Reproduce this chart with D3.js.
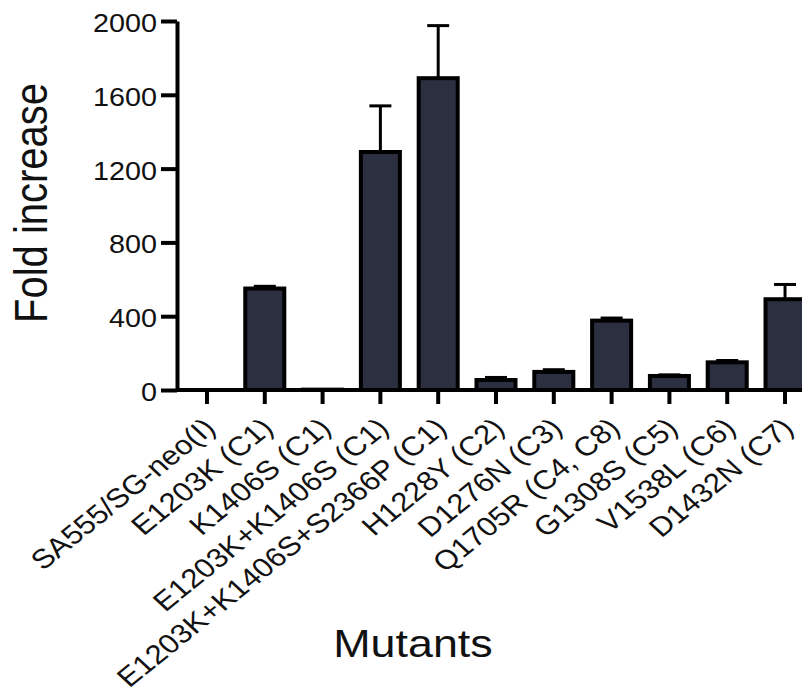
<!DOCTYPE html>
<html><head><meta charset="utf-8">
<script src="https://cdn.jsdelivr.net/npm/d3@7"></script>
<style>body{margin:0;background:#fff}svg{display:block}text{font-family:"Liberation Sans",Arial,sans-serif;fill:#111}</style>
</head><body>
<svg id="c" width="802" height="696"></svg>
<script>
const categories = ["SA555/SG-neo(I)","E1203K (C1)","K1406S (C1)","E1203K+K1406S (C1)","E1203K+K1406S+S2366P (C1)","H1228Y (C2)","D1276N (C3)","Q1705R (C4, C8)","G1308S (C5)","V1538L (C6)","D1432N (C7)"];
const values = [0, 550, 2, 1290, 1690, 54, 98, 376, 76, 150, 492];
const errors = [0, 12, 0, 250, 285, 14, 12, 14, 6, 10, 80];
const yTicks = [0, 400, 800, 1200, 1600, 2000];

const svg = d3.select("#c");
const x = d3.scaleBand().domain(categories).range([177, 815]).paddingInner(0.325).paddingOuter(0.181);
const y = d3.scaleLinear().domain([0, 2000]).range([390, 21]);
const SX = 1.15; // horizontal stretch of the reference's lettering

// error bars
const eg = svg.append("g").attr("stroke", "#000").attr("stroke-width", 3);
categories.forEach((c, i) => {
  if (errors[i] <= 0) return;
  const cx = x(c) + x.bandwidth() / 2;
  eg.append("line").attr("x1", cx).attr("x2", cx).attr("y1", y(values[i])).attr("y2", y(values[i] + errors[i]));
  eg.append("line").attr("x1", cx - 11).attr("x2", cx + 11).attr("y1", y(values[i] + errors[i])).attr("y2", y(values[i] + errors[i]));
});

// bars
svg.append("g").selectAll("rect").data(categories).join("rect")
  .attr("x", d => x(d)).attr("width", x.bandwidth())
  .attr("y", (d, i) => y(values[i])).attr("height", (d, i) => y(0) - y(values[i]))
  .attr("fill", "#2c2f40").attr("stroke", "#000").attr("stroke-width", 4)
  .attr("display", (d, i) => values[i] > 0 ? null : "none");

// y axis
const ya = svg.append("g").attr("transform", "translate(177,0)")
  .call(d3.axisLeft(y).tickValues(yTicks).tickFormat(d3.format("d")).tickSize(16).tickSizeOuter(0));
ya.select(".domain").attr("stroke", "#000").attr("stroke-width", 4);
ya.selectAll(".tick line").attr("stroke", "#000").attr("stroke-width", 4);
ya.selectAll(".tick text").attr("font-size", 25).attr("fill", "#111")
  .attr("x", 0).attr("dy", "0.42em")
  .attr("transform", `translate(-20,0) scale(${SX},1)`);

// x axis
const xa = svg.append("g").attr("transform", "translate(0,390)")
  .call(d3.axisBottom(x).tickSize(14).tickSizeOuter(0));
xa.select(".domain").attr("stroke", "#000").attr("stroke-width", 4).attr("d", "M177,0H802");
xa.selectAll(".tick line").attr("stroke", "#000").attr("stroke-width", 4);
xa.selectAll(".tick text").attr("font-size", 27).attr("fill", "#111")
  .attr("text-anchor", "end").attr("dy", null).attr("y", 0)
  .attr("transform", `translate(10,40) scale(${SX},1) rotate(-43)`);

// axis titles
svg.append("text").attr("transform", `translate(413,657) scale(${SX},1)`).attr("text-anchor", "middle").attr("font-size", 39).text("Mutants");
svg.append("text").attr("transform", `translate(47,203) scale(${SX},1) rotate(-90)`).attr("text-anchor", "middle").attr("font-size", 40).text("Fold increase");
</script>
</body></html>
